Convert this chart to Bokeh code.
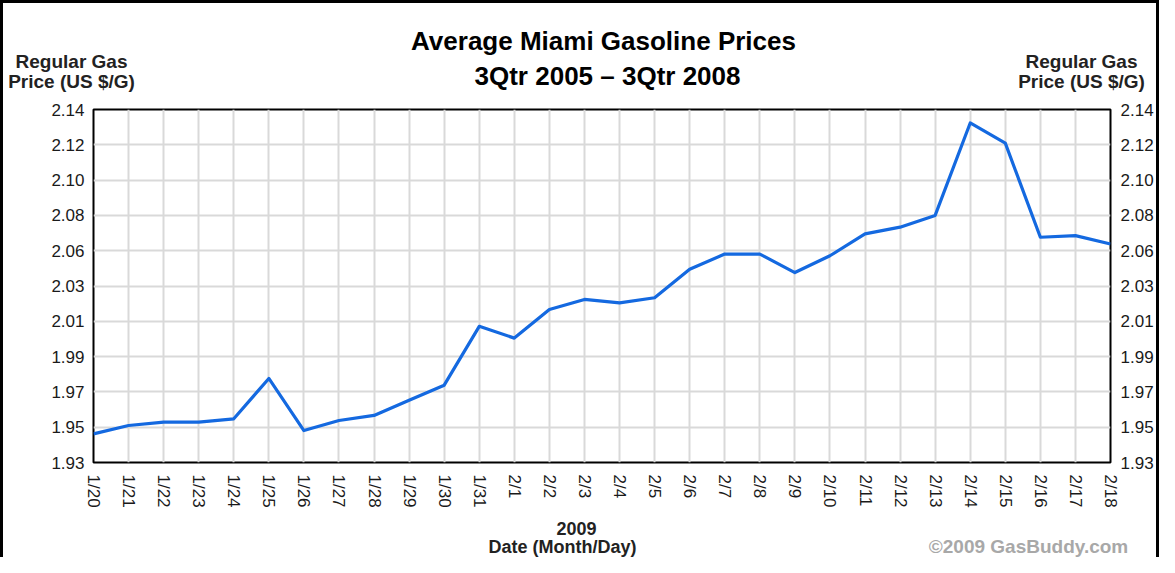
from bokeh.plotting import figure
from bokeh.models import Range1d, FixedTicker, LinearAxis
from bokeh.layouts import column
from bokeh.core.properties import value
from bokeh.embed import file_html
from bokeh.resources import INLINE
import numpy as np

# ---- data ----
dates = ["1/20", "1/21", "1/22", "1/23", "1/24", "1/25", "1/26", "1/27", "1/28", "1/29",
         "1/30", "1/31", "2/1", "2/2", "2/3", "2/4", "2/5", "2/6", "2/7", "2/8",
         "2/9", "2/10", "2/11", "2/12", "2/13", "2/14", "2/15", "2/16", "2/17", "2/18"]
prices = [1.947, 1.952, 1.954, 1.954, 1.956, 1.980, 1.949, 1.955, 1.958, 1.967,
          1.976, 2.011, 2.004, 2.021, 2.027, 2.025, 2.028, 2.045, 2.054, 2.054,
          2.043, 2.053, 2.066, 2.070, 2.077, 2.132, 2.120, 2.064, 2.065, 2.060]
y_tick_labels = ["1.93", "1.95", "1.97", "1.99", "2.01", "2.03",
                 "2.06", "2.08", "2.10", "2.12", "2.14"]

title_lines = ["Average Miami Gasoline Prices", "3Qtr 2005 \u2013 3Qtr 2008"]
y_title_lines = ["Regular Gas", "Price (US $/G)"]
x_year = "2009"
x_title = "Date (Month/Day)"
credit = "\u00a92009 GasBuddy.com"

FONT = "Liberation Sans"
W = 1153
HEAD_H = 96
MAIN_H = 418
FOOT_H = 40


def no_align(f):
    if "frame_align" in f.properties():
        f.frame_align = False


# ---- main chart ----
xs = list(range(len(dates)))
y_lo, y_hi = float(y_tick_labels[0]), float(y_tick_labels[-1])
y_ticks = [float(v) for v in np.linspace(y_lo, y_hi, len(y_tick_labels))]
y_over = {t: lab for t, lab in zip(y_ticks, y_tick_labels)}
x_over = {i: d for i, d in zip(xs, dates)}

p = figure(width=W, height=MAIN_H, output_backend="svg", toolbar_location=None,
           x_range=Range1d(xs[0], xs[-1]), y_range=Range1d(y_lo, y_hi),
           min_border_left=90, min_border_right=44, min_border_top=10, min_border_bottom=55)
no_align(p)
p.background_fill_color = "white"
p.border_fill_color = "white"
p.outline_line_color = "black"
p.outline_line_width = 2
p.outline_line_alpha = 1

p.xaxis.ticker = FixedTicker(ticks=xs)
p.xaxis.major_label_overrides = x_over
p.xaxis.major_label_orientation = -np.pi / 2
p.xaxis.major_label_standoff = 12

p.yaxis.ticker = FixedTicker(ticks=y_ticks)
p.yaxis.major_label_overrides = y_over
p.yaxis.major_label_standoff = 9

right = LinearAxis(ticker=FixedTicker(ticks=y_ticks), major_label_overrides=y_over,
                   major_label_standoff=10)
p.add_layout(right, "right")

for ax in p.axis:
    ax.axis_line_color = None
    ax.major_tick_line_color = None
    ax.minor_tick_line_color = None
    ax.major_tick_out = 0
    ax.major_tick_in = 0
    ax.major_label_text_font = FONT
    ax.major_label_text_font_size = "17px"
    ax.major_label_text_color = "#1a1a1a"

p.xgrid.ticker = FixedTicker(ticks=xs)
p.ygrid.ticker = FixedTicker(ticks=y_ticks)
p.grid.grid_line_color = "#d9d9d9"
p.grid.grid_line_width = 2

p.line(xs, prices, line_color="#1469e0", line_width=3.2, line_join="round")


# ---- text bands (frames span the whole canvas; y grows downward in pixels) ----
def band(height, y_top):
    f = figure(width=W, height=height, output_backend="svg", toolbar_location=None,
               x_range=Range1d(0, W), y_range=Range1d(y_top + height, y_top),
               x_axis_type=None, y_axis_type=None, min_border=0)
    no_align(f)
    f.outline_line_color = None
    f.background_fill_color = "white"
    f.border_fill_color = "white"
    return f


def txt(f, texts, xs_, ys_, size, color):
    # ys_ are wanted baselines; shift up to compensate the text box offset
    shift = round(0.31 * size)
    f.text(x=xs_, y=[y - shift for y in ys_], text=texts, text_font=value(FONT),
           text_font_size=value(f"{size}px"), text_font_style="bold", text_color=color,
           text_align="center", text_baseline="alphabetic")


head = band(HEAD_H, 0)
txt(head, title_lines, [600, 604], [45, 80], 26, "black")
txt(head, y_title_lines, [68, 68], [64, 84], 19, "#222222")
txt(head, y_title_lines, [1078, 1078], [64, 84], 19, "#222222")

foot = band(FOOT_H, HEAD_H + MAIN_H)
txt(foot, [x_year], [573], [531], 18, "#222222")
txt(foot, [x_title], [559], [549], 18, "#222222")
txt(foot, [credit], [1025], [549], 19, "#a8a8a8")

layout = column(head, p, foot, spacing=0)
layout.styles = {"border-left": "3px solid black", "border-top": "3px solid black",
                 "border-right": "3px solid black"}

open("out.html", "w").write(file_html(layout, INLINE))
